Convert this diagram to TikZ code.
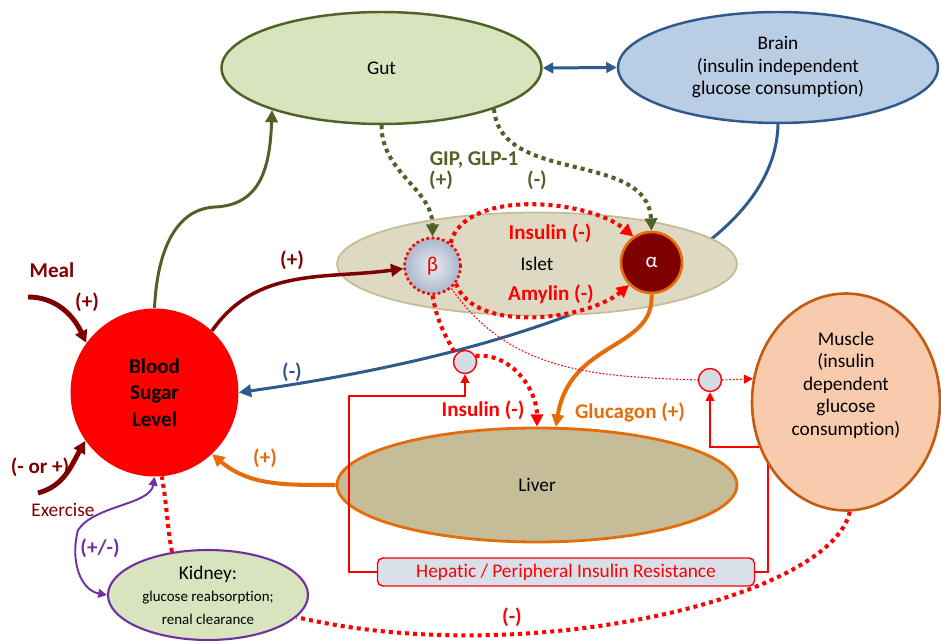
\documentclass[tikz,border=0pt]{standalone}
\usepackage{fontspec}
\setmainfont{Carlito}[Ligatures=NoCommon]
\usepackage{tikz}
\usetikzlibrary{arrows.meta,shapes.geometric}

\definecolor{bloodred}{HTML}{FF0000}
\definecolor{mealred}{HTML}{7F0000}
\definecolor{gutgreen}{HTML}{4F6228}
\definecolor{gutfill}{HTML}{D7E4BD}
\definecolor{brainblue}{HTML}{2E5A8C}
\definecolor{brainfill}{HTML}{B9CDE5}
\definecolor{isletfill}{HTML}{DDD9C3}
\definecolor{isletdraw}{HTML}{C4BD97}
\definecolor{liverfill}{HTML}{C4BD97}
\definecolor{orangeline}{HTML}{E46C0A}
\definecolor{musclefill}{HTML}{F8CBAD}
\definecolor{muscledraw}{HTML}{C55A11}
\definecolor{kidneypurple}{HTML}{7030A0}
\definecolor{betainner}{HTML}{E8ECF3}
\definecolor{betaouter}{HTML}{A9B6CC}
\definecolor{junctionfill}{HTML}{D6DCE5}
\definecolor{boxfill}{HTML}{DAE0EA}

\begin{document}
\begin{tikzpicture}[x=0.02cm,y=0.02cm,font=\fontsize{11}{12.8}\selectfont,
  organ/.style={ellipse,draw,line width=1.4pt,inner sep=0pt,align=center},
  lbl/.style={font=\fontsize{12}{14}\selectfont\bfseries},
  arr/.style={-{Triangle[length=7pt,width=7pt]}},
  smallarr/.style={-{Triangle[length=5pt,width=5pt]}},
  dots/.style={line width=2.3pt,dash pattern=on 2.3pt off 2.3pt},
  thindots/.style={line width=0.6pt,dash pattern=on 1pt off 1pt},
  junction/.style={circle,draw=red,fill=junctionfill,line width=0.8pt,minimum size=0.46cm,inner sep=0pt}]
\useasboundingbox (0,0) rectangle (941,-641);

% organs
\node[circle,fill=bloodred,minimum size=3.36cm,inner sep=0pt,align=center,font=\fontsize{12}{15}\selectfont\bfseries] (bsl) at (154.5,-392.5) {Blood\\Sugar\\Level};
\node[organ,draw=gutgreen,fill=gutfill,minimum width=6.4cm,minimum height=2.24cm] (gut) at (381.5,-68) {Gut};
\node[organ,draw=brainblue,fill=brainfill,minimum width=6.4cm,minimum height=2.22cm] (brain) at (778,-67.5) {Brain\\(insulin independent\\glucose consumption)};

% brain uptake, runs behind the islet
\draw[arr,brainblue,line width=1.7pt] (brain.south) .. controls (775,-260) and (540,-350) .. (bsl.east);

\node[organ,draw=isletdraw,fill=isletfill,line width=1pt,minimum width=8cm,minimum height=2.06cm] (islet) at (537,-264) {Islet};
\node[circle,draw=red,line width=1.5pt,dash pattern=on 1.5pt off 1.5pt,inner color=betainner,outer color=betaouter,minimum size=1.12cm,inner sep=0pt,text=red,font=\fontsize{12}{14}\selectfont] (beta) at (432.5,-266) {β};
\node[circle,draw=orangeline,fill=mealred,line width=1.5pt,minimum size=1.22cm,inner sep=0pt,text=white,font=\fontsize{12}{14}\selectfont] (alpha) at (651.5,-262.5) {α};
\node[organ,draw=orangeline,fill=liverfill,line width=1.6pt,minimum width=8cm,minimum height=2.28cm] (liver) at (537,-485) {Liver};
\node[organ,draw=kidneypurple,fill=gutfill,line width=1.2pt,minimum width=4cm,minimum height=1.8cm] (kidney) at (208,-595) {Kidney:\\{\fontsize{8.5}{10}\selectfont glucose reabsorption;}\\{\fontsize{8.5}{10}\selectfont renal clearance}};
\node[junction] (jl) at (465,-362) {};
\node[junction] (jm) at (710,-380) {};
\node[draw=red,fill=boxfill,rounded corners=3pt,line width=0.8pt,minimum width=7.54cm,minimum height=0.56cm,inner sep=0pt,text=red] (resist) at (566,-572) {Hepatic / Peripheral Insulin Resistance};

% insulin resistance
\draw[smallarr,red,line width=1pt] (resist.west) -| (349,-396) -| (jl.south);
\draw[smallarr,red,line width=1pt] (resist.east) -| (768,-447) -| (jm.south);

\node[organ,draw=muscledraw,fill=musclefill,line width=1.5pt,minimum width=3.76cm,minimum height=4.34cm] (muscle) at (846,-402) {};
\node[align=center] (lmuscle) at (846,-385) {Muscle\\(insulin\\dependent\\glucose\\consumption)};

% gut
\draw[{Triangle[length=6pt,width=6pt]}-{Triangle[length=6pt,width=6pt]},brainblue,line width=1.7pt] (gut.east) -- (brain.west);
\draw[arr,gutgreen,line width=1.7pt] (bsl.north) .. controls (158,-235) and (185,-208) .. (215,-207) .. controls (262,-205) and (270,-165) .. (gut.-159);
\draw[arr,gutgreen,dots] (gut.south) to[out=-90,in=90] (beta.north);
\draw[arr,gutgreen,dots] (gut.-20) .. controls (500,-185) and (648,-150) .. (alpha.north);
\node[lbl,gutgreen] (lgip) at (474,-160) {GIP, GLP-1};
\node[lbl,gutgreen] (lgipb) at (441,-180) {(+)};
\node[lbl,gutgreen] (lgipa) at (537,-180) {(-)};

% islet
\draw[arr,mealred,line width=2pt] (bsl.47) to[out=55,in=188] (beta.185);
\node[lbl,mealred] (lbeta) at (292,-260) {(+)};
\draw[arr,red,dots] (beta.52) to[out=75,in=140,looseness=0.8] (alpha.125);
\draw[arr,red,dots] (beta.-37) to[out=-70,in=-140,looseness=0.8] (alpha.-135);
\node[lbl,red] (lins) at (550,-233) {Insulin (-)};
\node[lbl,red] (lamy) at (551,-294) {Amylin (-)};

% liver
\draw[red,dots] (beta.south) to[out=-80,in=120] (jl.140);
\draw[arr,red,dots] (jl.30) to[out=5,in=90] (liver.north);
\node[lbl,red] (linsl) at (483,-410) {Insulin (-)};
\draw[arr,orangeline,line width=2.3pt] (alpha.south) .. controls (655,-350) and (570,-340) .. (liver.72);
\node[lbl,orangeline] (lglu) at (630,-412) {Glucagon (+)};
\draw[arr,orangeline,line width=2.3pt] (liver.west) to[out=180,in=-40] (bsl.-47);
\node[lbl,orangeline] (lliver) at (265,-458) {(+)};
\node[lbl,brainblue] (lbrain) at (292,-372) {(-)};

% muscle
\draw[red,thindots] (beta.-50) to[out=-55,in=178] (jm.west);
\draw[smallarr,red,thindots] (jm.east) -- (muscle.166);

% meal and exercise
\coordinate (meal) at (28,-297);
\coordinate (exercise) at (38,-493);
\draw[arr,mealred,line width=2.8pt] (meal) to[out=0,in=115] (bsl.144);
\draw[arr,mealred,line width=2.8pt] (exercise) to[out=15,in=-120] (bsl.215);
\node[lbl,mealred] (lmeal) at (52,-270) {Meal};
\node[lbl,mealred] (lmealp) at (87,-302) {(+)};
\node[lbl,mealred] (lex) at (40,-467) {(- or +)};
\node[mealred] (lexercise) at (63,-510) {Exercise};

% kidney
\draw[red,dots] (kidney.130) to[out=100,in=-80] (bsl.-85);
\draw[{Triangle[length=5pt,width=5pt]}-{Triangle[length=5pt,width=5pt]},kidneypurple,line width=1.1pt] (bsl.south) .. controls (150,-505) and (95,-505) .. (78,-530) .. controls (70,-560) and (80,-590) .. (kidney.west);
\node[lbl,kidneypurple] (lkid) at (100,-548) {(+/-)};
\draw[red,dots] (muscle.-88) .. controls (830,-600) and (520,-670) .. (kidney.-14);
\node[lbl,red] (lmus) at (512,-617) {(-)};
\end{tikzpicture}
\end{document}
